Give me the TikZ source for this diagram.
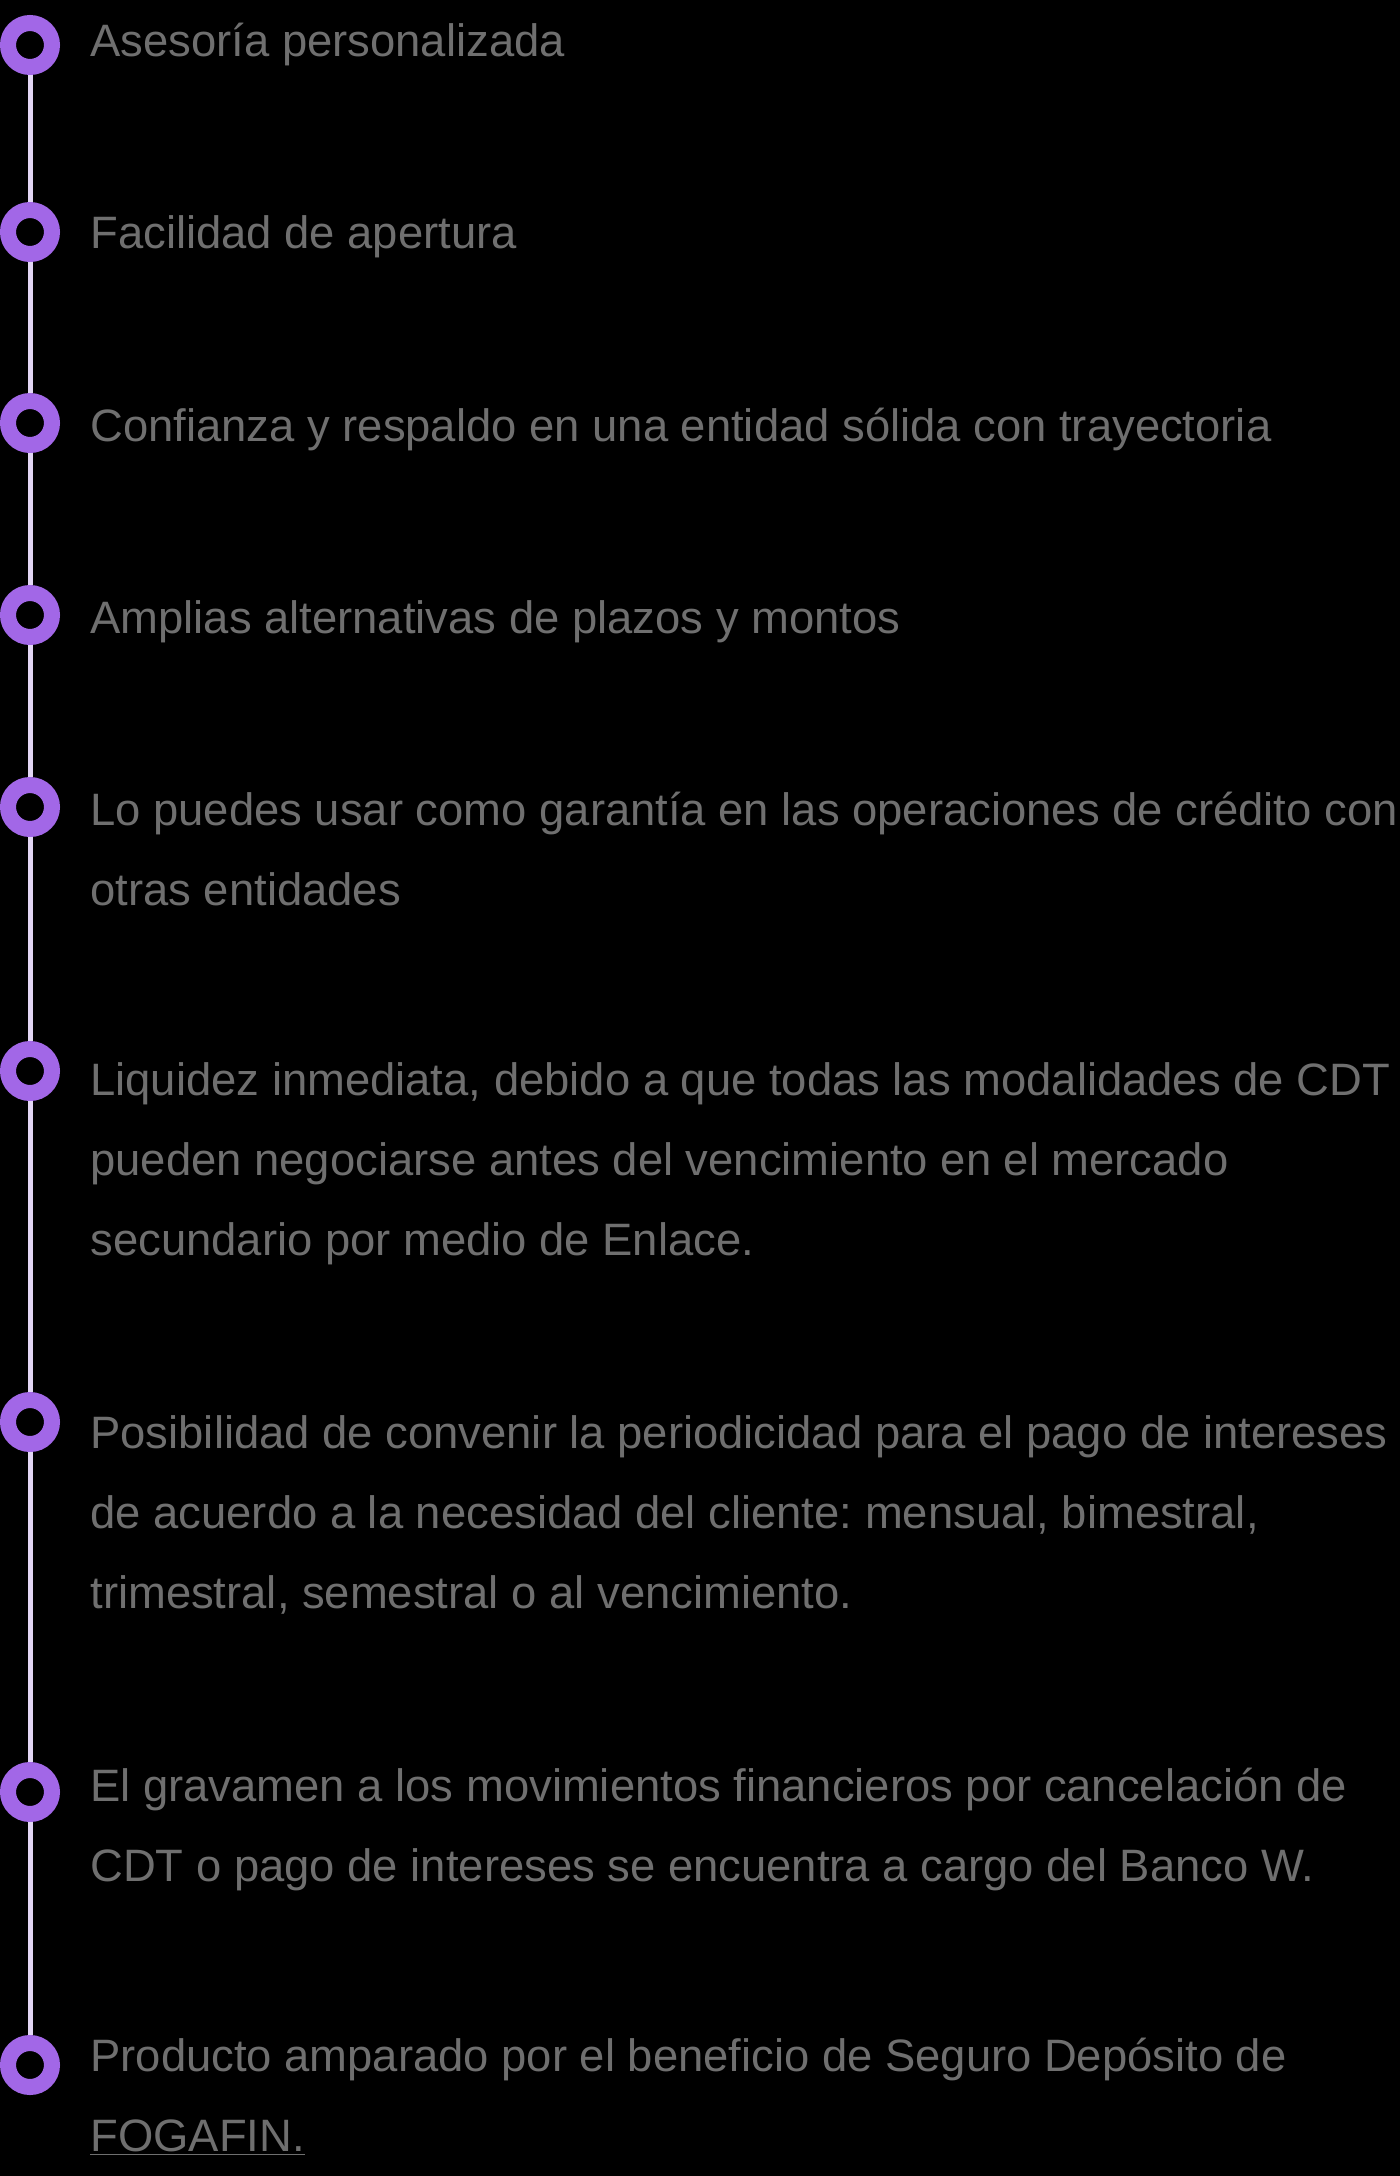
\documentclass[tikz,border=0pt]{standalone}
\usepackage{fontspec}
\setmainfont{Liberation Sans}
\frenchspacing
\definecolor{ringpurple}{HTML}{A267E7}
\definecolor{raillilac}{HTML}{E3D6F5}
\definecolor{textgrey}{HTML}{6F6F6F}

\begin{document}
\begin{tikzpicture}[x=0.5pt,y=-0.5pt,
  dot/.style={circle,draw=ringpurple,line width=8pt,fill=black,minimum size=22pt,inner sep=0pt},
  rail/.style={draw=raillilac,line width=2.5pt},
  item/.style={anchor=base west,text=textgrey,align=left,inner sep=0pt,font=\fontsize{22.7}{40}\selectfont}]

\useasboundingbox (0,0) rectangle (1400,2176);
\fill[black] (0,0) rectangle (1400,2176);

\node[dot] (c1) at (30,45) {};
\node[dot] (c2) at (30,232) {};
\node[dot] (c3) at (30,423) {};
\node[dot] (c4) at (30,615) {};
\node[dot] (c5) at (30,807) {};
\node[dot] (c6) at (30,1071) {};
\node[dot] (c7) at (30,1422) {};
\node[dot] (c8) at (30,1792) {};
\node[dot] (c9) at (30,2065) {};

\draw[rail] (c1) -- (c2);
\draw[rail] (c2) -- (c3);
\draw[rail] (c3) -- (c4);
\draw[rail] (c4) -- (c5);
\draw[rail] (c5) -- (c6);
\draw[rail] (c6) -- (c7);
\draw[rail] (c7) -- (c8);
\draw[rail] (c8) -- (c9);

% multi-line items: base anchor sits on the last line
\node[item] (t1) at (90,56) {Asesoría personalizada};
\node[item] (t2) at (90,248) {Facilidad de apertura};
\node[item] (t3) at (90,441) {Confianza y respaldo en una entidad sólida con trayectoria};
\node[item] (t4) at (90,633) {Amplias alternativas de plazos y montos};
\node[item] (t5) at (90,905) {Lo puedes usar como garantía en las operaciones de crédito con\\otras entidades};
\node[item] (t6) at (90,1255) {Liquidez inmediata, debido a que todas las modalidades de CDT\\pueden negociarse antes del vencimiento en el mercado\\secundario por medio de Enlace.};
\node[item] (t7) at (90,1608) {Posibilidad de convenir la periodicidad para el pago de intereses\\de acuerdo a la necesidad del cliente: mensual, bimestral,\\trimestral, semestral o al vencimiento.};
\node[item] (t8) at (90,1881) {El gravamen a los movimientos financieros por cancelación de\\CDT o pago de intereses se encuentra a cargo del Banco W.};
\node[item] (t9) at (90,2151) {Producto amparado por el beneficio de Seguro Depósito de\\\underline{FOGAFIN.}};

\end{tikzpicture}
\end{document}
